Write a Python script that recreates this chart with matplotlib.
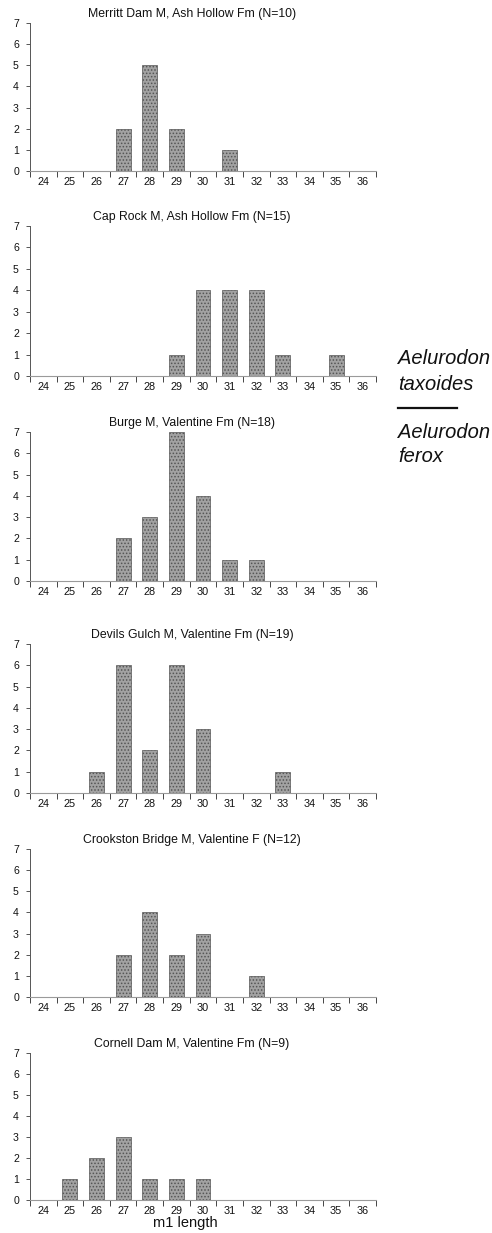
import matplotlib
matplotlib.use("Agg")
import matplotlib.pyplot as plt
from matplotlib.lines import Line2D

plt.rcParams['font.family'] = ['Liberation Sans', 'DejaVu Sans']
plt.rcParams['hatch.linewidth'] = 0.7

categories = [24, 25, 26, 27, 28, 29, 30, 31, 32, 33, 34, 35, 36]

titles = [
    "Merritt Dam M, Ash Hollow Fm (N=10)",
    "Cap Rock M, Ash Hollow Fm (N=15)",
    "Burge M, Valentine Fm (N=18)",
    "Devils Gulch M, Valentine Fm (N=19)",
    "Crookston Bridge M, Valentine F (N=12)",
    "Cornell Dam M, Valentine Fm (N=9)",
]

merritt_dam = [0, 0, 0, 2, 5, 2, 0, 1, 0, 0, 0, 0, 0]
cap_rock = [0, 0, 0, 0, 0, 1, 4, 4, 4, 1, 0, 1, 0]
burge = [0, 0, 0, 2, 3, 7, 4, 1, 1, 0, 0, 0, 0]
devils_gulch = [0, 0, 1, 6, 2, 6, 3, 0, 0, 1, 0, 0, 0]
crookston_bridge = [0, 0, 0, 2, 4, 2, 3, 0, 1, 0, 0, 0, 0]
cornell_dam = [0, 1, 2, 3, 1, 1, 1, 0, 0, 0, 0, 0, 0]

series = [merritt_dam, cap_rock, burge, devils_gulch, crookston_bridge, cornell_dam]
y_ticks = [0, 1, 2, 3, 4, 5, 6, 7]
x_label = "m1 length"
side_top = ["Aelurodon", "taxoides"]
side_bottom = ["Aelurodon", "ferox"]

W, H = 492, 1233
fig = plt.figure(figsize=(W / 100, H / 100), dpi=100)

# pixel positions (top of 7, bottom at 0) for each panel
panel_px = [(23, 171), (226, 376), (432, 581), (644, 793), (849, 997), (1053, 1200)]
left_px, right_px = 30, 376

for i, (title, vals) in enumerate(zip(titles, series)):
    ytop, ybot = panel_px[i]
    ax = fig.add_axes([left_px / W, 1 - ybot / H, (right_px - left_px) / W, (ybot - ytop) / H])
    ax.bar(categories, vals, width=0.56, facecolor='#a2a2a2', edgecolor='#555555',
           linewidth=0.5, hatch='.....', zorder=3)
    ax.set_xlim(categories[0] - 0.5, categories[-1] + 0.5)
    ax.set_ylim(0, 7)
    ax.set_yticks(y_ticks)
    ax.set_xticks(categories)
    ax.set_xticks([c - 0.5 for c in categories] + [categories[-1] + 0.5], minor=True)
    ax.tick_params(axis='x', which='major', length=0, pad=4.5, labelsize=7.8, colors='#111')
    ax.tick_params(axis='x', which='minor', length=4, width=0.7, color='#444', direction='out')
    ax.tick_params(axis='y', which='major', length=3, width=0.7, color='#555', pad=5,
                   labelsize=7.6, labelcolor='#111')
    for s in ['top', 'right']:
        ax.spines[s].set_visible(False)
    ax.spines['left'].set_color('#555')
    ax.spines['left'].set_linewidth(0.7)
    ax.spines['bottom'].set_color('#9a9a9a')
    ax.spines['bottom'].set_linewidth(0.8)
    ax.set_title(title, fontsize=8.8, x=0.468, pad=4, color='#111')
    if i == len(titles) - 1:
        ax.set_xlabel(x_label, fontsize=10.5, labelpad=0, x=0.45, color='#111')

# side species labels
fig.text(398 / W, 1 - 358 / H, side_top[0], fontsize=14.5, style='italic', va='center', ha='left', color='#111')
fig.text(398 / W, 1 - 384 / H, side_top[1], fontsize=14.5, style='italic', va='center', ha='left', color='#111')
fig.add_artist(Line2D([398 / W, 457 / W], [1 - 408 / H, 1 - 408 / H], color='#111', linewidth=1.6))
fig.text(398 / W, 1 - 432 / H, side_bottom[0], fontsize=14.5, style='italic', va='center', ha='left', color='#111')
fig.text(398 / W, 1 - 456 / H, side_bottom[1], fontsize=14.5, style='italic', va='center', ha='left', color='#111')

fig.savefig("out.png", dpi=100, facecolor='white')
